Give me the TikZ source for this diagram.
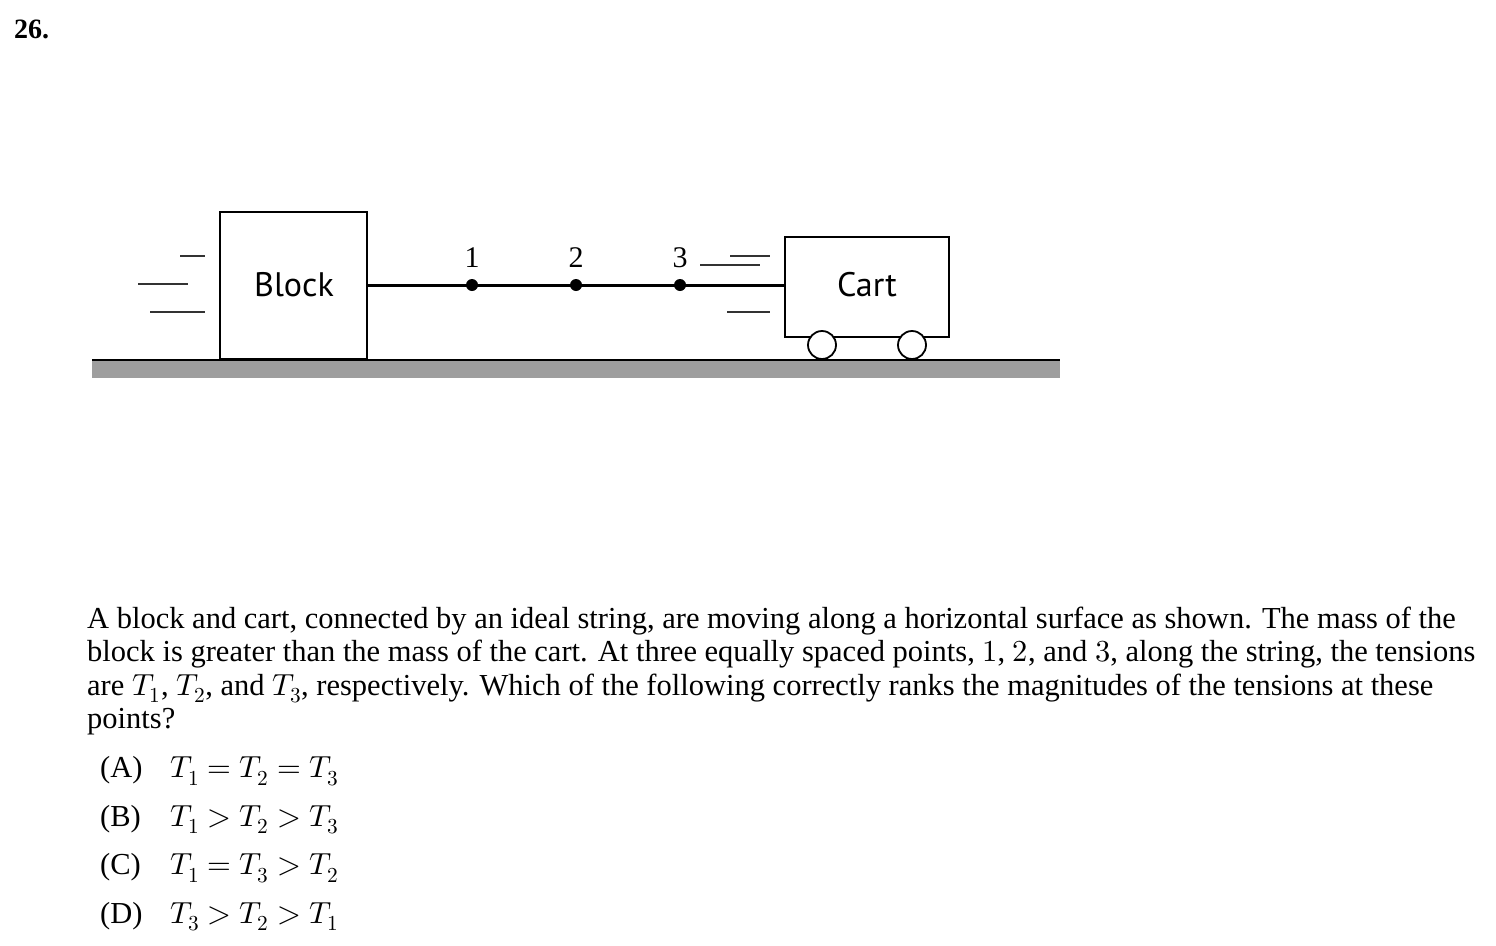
\documentclass[tikz,border=0pt]{standalone}
\usepackage{fontspec}
\setmainfont{Liberation Serif}
\setsansfont{PT Sans}
\usepackage{unicode-math}
\setmathfont{Latin Modern Math}
\usetikzlibrary{positioning}
\begin{document}
\begin{tikzpicture}[x=1pt,y=-1pt,
    line/.style={anchor=base west,inner sep=0pt,font=\fontsize{30.5}{33}\selectfont},
    lab/.style={font=\fontsize{34}{38}\selectfont\sffamily},
    num/.style={font=\fontsize{30}{34}\selectfont},
    dot/.style={circle,fill=black,inner sep=0pt,minimum size=12pt},
    wheel/.style={circle,draw,fill=white,line width=1.8pt,minimum size=28pt,inner sep=0pt},
    streak/.style={line width=1.8pt,black!80}]
\useasboundingbox (0,0) rectangle (1496,945);
\node[anchor=base west,inner sep=0pt,font=\fontsize{28}{32}\selectfont\bfseries] (qnum) at (14,38) {26.};

% ground
\fill[black!38] (92,360) rectangle (1060,378);
\draw[line width=1.8pt] (92,360) -- (1060,360);

% block and cart
\draw[line width=1.8pt] (220,359) rectangle (367,212);
\node[lab] (block) at (294,285) {Block};
\draw[line width=1.8pt] (785,337) -- (785,237) -- (949,237) -- (949,337) -- cycle;
\node[lab] (cart) at (867,285) {Cart};
\node[wheel] (w1) at (822,345) {};
\node[wheel] (w2) at (912,345) {};

% string
\coordinate (s0) at (367,285);
\coordinate (s4) at (785,285);
\draw[line width=3pt] (s0) -- (s4);
\foreach \i/\x in {1/472,2/576,3/680}{
  \node[dot] (p\i) at (\x,285) {};
  \node[num,anchor=base] (n\i) at (\x,267) {\i};
}

% motion streaks
\draw[streak] (180,256) -- (205,256);
\draw[streak] (138,284) -- (188,284);
\draw[streak] (150,312) -- (205,312);
\draw[streak] (730,256) -- (770,256);
\draw[streak] (700,265) -- (760,265);
\draw[streak] (727,312) -- (770,312);

% question text
\node[line] (t1) at (87,628) {A block and cart, connected by an ideal string, are moving along a horizontal surface as shown. The mass of the};
\node[line] (t2) at (87,661) {block is greater than the mass of the cart. At three equally spaced points, $1$, $2$, and $3$, along the string, the tensions};
\node[line] (t3) at (87,695) {are $T_1$, $T_2$, and $T_3$, respectively. Which of the following correctly ranks the magnitudes of the tensions at these};
\node[line] (t4) at (87,728) {points?};
\foreach \l/\e [count=\k] in {A/{T_1 = T_2 = T_3},B/{T_1 > T_2 > T_3},C/{T_1 = T_3 > T_2},D/{T_3 > T_2 > T_1}}{
  \node[line] (c\l) at (100,729+48.5*\k) {(\l)};
  \node[line] at (170,729+48.5*\k) {$\e$};
}
\end{tikzpicture}
\end{document}
